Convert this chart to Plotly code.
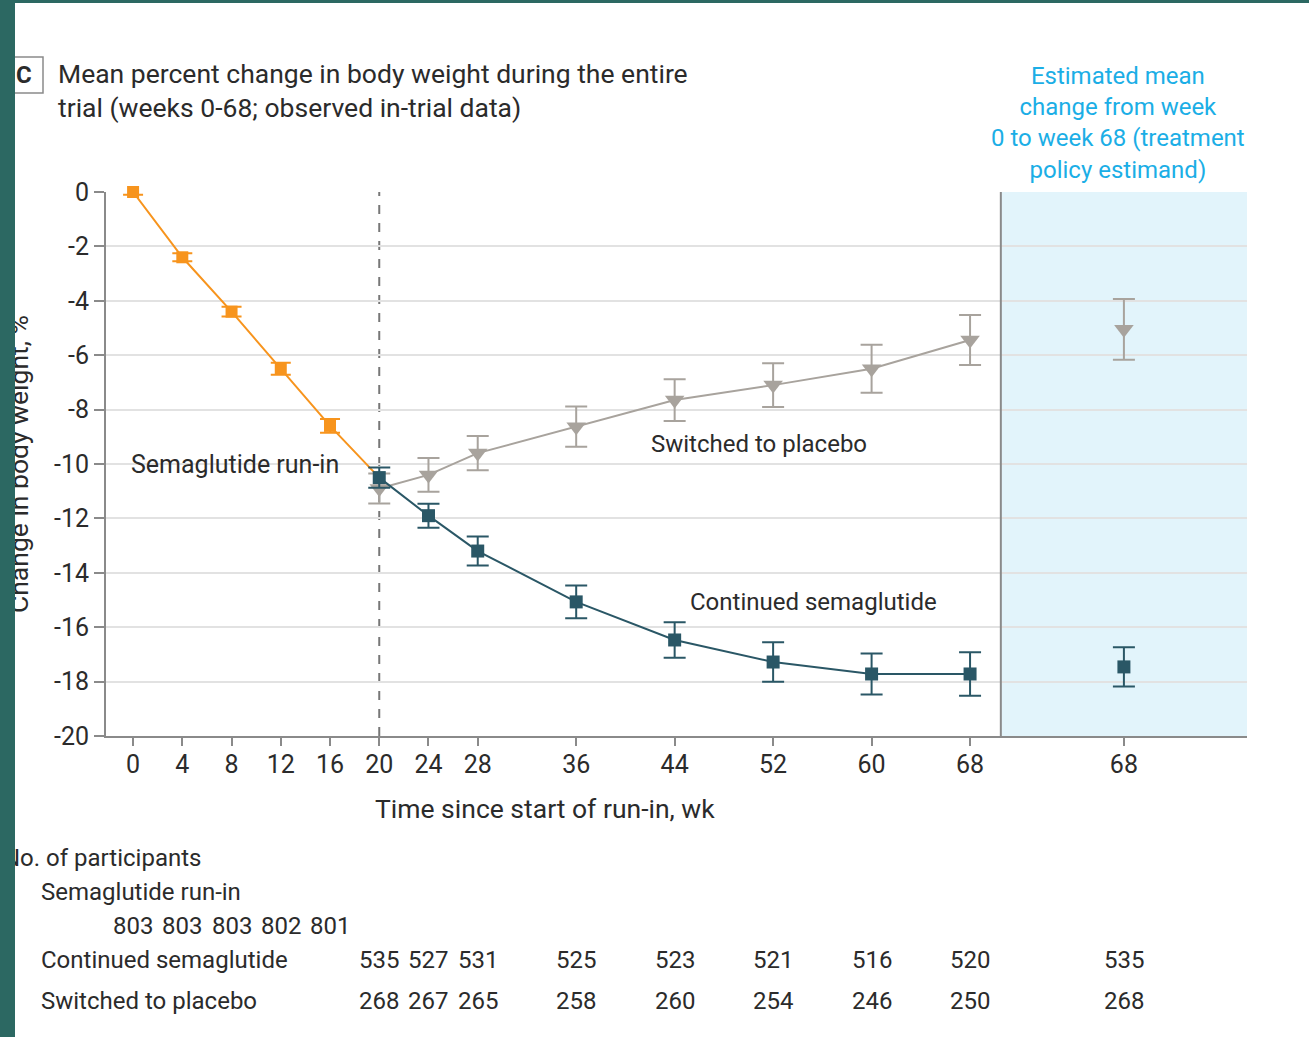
import plotly.graph_objects as go

# ---------------- data ----------------
runin_weeks = [0, 4, 8, 12, 16]
runin_mean = [0.0, -2.4, -4.4, -6.5, -8.6]
runin_err = [0.1, 0.15, 0.18, 0.22, 0.25]
runin_join_week = 20
runin_join_value = -10.5

post_weeks = [20, 24, 28, 36, 44, 52, 60, 68]
cont_mean = [-10.5, -11.9, -13.2, -15.07, -16.47, -17.28, -17.72, -17.72]
cont_err = [0.37, 0.44, 0.53, 0.6, 0.65, 0.73, 0.75, 0.8]
plac_mean = [-10.9, -10.4, -9.6, -8.63, -7.65, -7.1, -6.5, -5.44]
plac_err = [0.55, 0.62, 0.63, 0.74, 0.77, 0.8, 0.88, 0.92]

est_pos = 80.5          # position of the estimand column on the x axis
est_cont_mean = -17.46
est_cont_err = 0.72
est_plac_mean = -5.05
est_plac_err = 1.12

tick_vals = [0, 4, 8, 12, 16, 20, 24, 28, 36, 44, 52, 60, 68, est_pos]
tick_text = ["0", "4", "8", "12", "16", "20", "24", "28", "36", "44", "52", "60", "68", "68"]
y_vals = [0, -2, -4, -6, -8, -10, -12, -14, -16, -18, -20]
y_text = ["0", "-2", "-4", "-6", "-8", "-10", "-12", "-14", "-16", "-18", "-20"]

n_runin = ["803", "803", "803", "802", "801"]
n_cont = ["535", "527", "531", "525", "523", "521", "516", "520", "535"]
n_plac = ["268", "267", "265", "258", "260", "254", "246", "250", "268"]
n_post_pos = post_weeks + [est_pos]

# ---------------- style ----------------
ORANGE = "#F7941D"
TEAL = "#2A5766"
GRAY = "#A8A39D"
TXT = "#2B2B2B"
BLUE_TXT = "#1BAEE6"
FONT = "Roboto"
FS = 24

W, H = 1309, 1037
L, R, T, B = 106, 62, 192, 301
PW, PH = W - L - R, H - T - B

def px(x):
    return (x - L) / PW

def py(y):
    return (H - B - y) / PH

fig = go.Figure()

fig.add_trace(go.Scatter(
    x=runin_weeks + [runin_join_week], y=runin_mean + [runin_join_value],
    mode="lines", line=dict(color=ORANGE, width=2), hoverinfo="skip", showlegend=False))
fig.add_trace(go.Scatter(
    x=runin_weeks, y=runin_mean, mode="markers",
    marker=dict(symbol="square", size=12, color=ORANGE),
    error_y=dict(type="data", array=runin_err, color=ORANGE, thickness=2, width=10),
    cliponaxis=False, showlegend=False))
fig.add_trace(go.Scatter(
    x=post_weeks, y=plac_mean, mode="lines+markers",
    line=dict(color=GRAY, width=2),
    marker=dict(symbol="triangle-down", size=17, color=GRAY),
    error_y=dict(type="data", array=plac_err, color=GRAY, thickness=2, width=11),
    cliponaxis=False, showlegend=False))
fig.add_trace(go.Scatter(
    x=post_weeks, y=cont_mean, mode="lines+markers",
    line=dict(color=TEAL, width=2),
    marker=dict(symbol="square", size=13, color=TEAL),
    error_y=dict(type="data", array=cont_err, color=TEAL, thickness=2, width=11),
    cliponaxis=False, showlegend=False))
fig.add_trace(go.Scatter(
    x=[est_pos], y=[est_plac_mean], mode="markers",
    marker=dict(symbol="triangle-down", size=17, color=GRAY),
    error_y=dict(type="data", array=[est_plac_err], color=GRAY, thickness=2, width=11),
    cliponaxis=False, showlegend=False))
fig.add_trace(go.Scatter(
    x=[est_pos], y=[est_cont_mean], mode="markers",
    marker=dict(symbol="square", size=13, color=TEAL),
    error_y=dict(type="data", array=[est_cont_err], color=TEAL, thickness=2, width=11),
    cliponaxis=False, showlegend=False))

shapes = [
    # estimand panel background (covers gridlines)
    dict(type="rect", xref="x", yref="paper", x0=70.5, x1=90.5, y0=0, y1=1,
         fillcolor="#E2F4FB", line=dict(width=0), layer="between"),
    dict(type="line", xref="x", yref="paper", x0=70.5, x1=70.5, y0=0, y1=1,
         line=dict(color="#8A8A8A", width=2), layer="above"),
    # dashed divider at week 20
    dict(type="line", xref="x", yref="paper", x0=20, x1=20, y0=0, y1=1,
         line=dict(color="#777777", width=2, dash="dash"), layer="below"),
    # "C" box
    dict(type="rect", xref="paper", yref="paper", x0=px(8), x1=px(43), y0=py(93), y1=py(57),
         line=dict(color="#8A8A8A", width=1.5), fillcolor="white"),
]

ann = []

def add_text(text, x, y, size=FS, color=TXT, xanchor="left", xref="paper", **kw):
    ann.append(dict(text=text, x=x, y=y, xref=xref, yref="paper", xanchor=xanchor,
                    yanchor="middle", showarrow=False,
                    font=dict(family=FONT, size=size, color=color), **kw))

add_text("<b>C</b>", px(24), py(75), xanchor="center")
add_text("Mean percent change in body weight during the entire<br>trial (weeks 0-68; observed in-trial data)",
         px(56), py(90.5), size=26.5, align="left")
add_text("Estimated mean<br>change from week<br>0 to week 68 (treatment<br>policy estimand)",
         px(1118), py(123), color=BLUE_TXT, xanchor="center", align="center")
add_text("Semaglutide run-in", px(129), py(464), size=25)
add_text("Switched to placebo", px(649), py(444))
add_text("Continued semaglutide", px(688), py(602))
add_text("Time since start of run-in, wk", px(545), py(808), size=26.5, xanchor="center")

# participants table
add_text("No. of participants", px(1), py(858))
add_text("Semaglutide run-in", px(39), py(892))
add_text("Continued semaglutide", px(39), py(960))
add_text("Switched to placebo", px(39), py(1001))
for wk, n in zip(runin_weeks, n_runin):
    add_text(n, wk, py(926), xanchor="center", xref="x")
for wk, n in zip(n_post_pos, n_cont):
    add_text(n, wk, py(960), xanchor="center", xref="x")
for wk, n in zip(n_post_pos, n_plac):
    add_text(n, wk, py(1001), xanchor="center", xref="x")

# y-axis title (partially hidden by the frame, as in the reference)
add_text("Change in body weight, %", px(18), py(464), size=26.5, xanchor="center", textangle=-90)

# slide frame drawn on top as filled annotation boxes
ann.append(dict(text=" ", x=px(-10), y=py(-10), xref="paper", yref="paper",
                xanchor="left", yanchor="top", showarrow=False, width=25, height=H + 40,
                bgcolor="#2C6862", borderpad=0, borderwidth=0))
ann.append(dict(text=" ", x=px(-10), y=py(-10), xref="paper", yref="paper",
                xanchor="left", yanchor="top", showarrow=False, width=W + 40, height=13,
                bgcolor="#2C6862", borderpad=0, borderwidth=0))

fig.update_layout(
    width=W, height=H,
    margin=dict(l=L, r=R, t=T, b=B),
    paper_bgcolor="white", plot_bgcolor="white",
    font=dict(family=FONT, size=FS, color=TXT),
    shapes=shapes, annotations=ann, showlegend=False,
    xaxis=dict(range=[-2.2, 90.5], tickvals=tick_vals, ticktext=tick_text,
               showgrid=False, zeroline=False, showline=True, linecolor="#8A8A8A", linewidth=2,
               ticks="outside", ticklen=8, tickwidth=2, tickcolor="#8A8A8A",
               ticklabelstandoff=-3,
               tickfont=dict(family=FONT, size=25, color=TXT)),
    yaxis=dict(range=[-20, 0], tickvals=y_vals, ticktext=y_text,
               showgrid=True, gridcolor="#E2E2E2", gridwidth=2, zeroline=False,
               showline=True, linecolor="#8A8A8A", linewidth=2,
               ticks="outside", ticklen=10, tickwidth=2, tickcolor="#8A8A8A",
               tickfont=dict(family=FONT, size=25, color=TXT)),
)

fig.write_html("out.html")
